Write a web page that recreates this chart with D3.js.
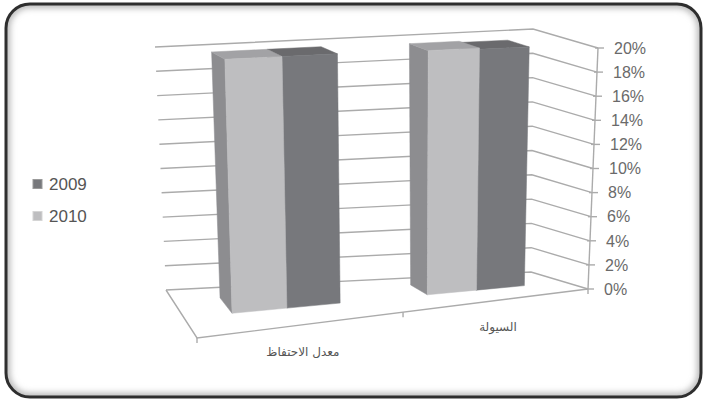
<!DOCTYPE html>
<html>
<head>
<meta charset="utf-8">
<script src="https://cdn.jsdelivr.net/npm/d3@7"></script>
<style>
  body { margin: 0; background: #fff; }
  svg { display: block; }
</style>
</head>
<body>
<div id="chart"></div>
<script>
// data
const categories = ["معدل الاحتفاظ", "السيولة"];
const seriesOrder = ["2010", "2009"];      // left to right inside each group
const legendOrder = ["2009", "2010"];
const values2009 = [0.198, 0.196];
const values2010 = [0.198, 0.197];
const valuesBySeries = { "2009": values2009, "2010": values2010 };

const W = 706, H = 401;

const svg = d3.select("#chart").append("svg")
    .attr("width", W)
    .attr("height", H);

// frame with soft inner shadow
const defs = svg.append("defs");
defs.append("filter").attr("id", "blur")
    .attr("x", "-5%").attr("y", "-5%").attr("width", "110%").attr("height", "110%")
    .append("feGaussianBlur").attr("stdDeviation", 3);
defs.append("clipPath").attr("id", "frameClip")
    .append("rect")
    .attr("x", 6).attr("y", 4).attr("width", 695).attr("height", 393).attr("rx", 24);

svg.append("rect")
    .attr("x", 6).attr("y", 4).attr("width", 695).attr("height", 393).attr("rx", 24)
    .attr("fill", "#fff");
svg.append("g").attr("clip-path", "url(#frameClip)")
    .append("rect")
    .attr("x", 6).attr("y", 4).attr("width", 695).attr("height", 393).attr("rx", 24)
    .attr("fill", "none").attr("stroke", "#b5b5b5").attr("stroke-width", 8)
    .attr("filter", "url(#blur)");
svg.append("rect")
    .attr("x", 6).attr("y", 4).attr("width", 695).attr("height", 393).attr("rx", 24)
    .attr("fill", "none").attr("stroke", "#2e2e2e").attr("stroke-width", 3);

// 3D box corners on screen (front/back, left/right, bottom/top)
const box = {
    FLb: [197, 338], FRb: [588, 289], BLb: [166, 290], BRb: [531, 272],
    FLt: [189, 68],  FRt: [598, 48],  BLt: [155, 47],  BRt: [533, 29]
};

// perspective foreshortening along the category direction
const persp = 1.114;
const warp = u => persp * u / (1 + (persp - 1) * u);

function lerp(a, b, k) { return [a[0] + (b[0] - a[0]) * k, a[1] + (b[1] - a[1]) * k]; }

// u: 0..1 left->right, t: 0..1 bottom->top, w: 0 front .. 1 back
function proj(u, t, w) {
    const s = warp(u);
    const fb = lerp(box.FLb, box.FRb, s), ft = lerp(box.FLt, box.FRt, s);
    const bb = lerp(box.BLb, box.BRb, s), bt = lerp(box.BLt, box.BRt, s);
    const f = lerp(fb, ft, t), b = lerp(bb, bt, t);
    return lerp(f, b, w);
}

const yScale = d3.scaleLinear().domain([0, 0.2]).range([0, 1]);
const xBand = d3.scaleBand().domain(categories).range([0, 1])
    .paddingInner(0.46).paddingOuter(0.23);
const sBand = d3.scaleBand().domain(seriesOrder).range([0, xBand.bandwidth()]);

const gridColor = "#ababab";
const ticks = yScale.ticks(10);
const fmt = d3.format(".0%");
const line = d3.line();

// back wall and side wall grid lines
const grid = svg.append("g").attr("fill", "none").attr("stroke", gridColor).attr("stroke-width", 1.4);
ticks.forEach(v => {
    const t = yScale(v);
    grid.append("path").attr("d", line([proj(0, t, 1), proj(1, t, 1), proj(1, t, 0)]));
});

// floor outline
grid.append("path").attr("d", line([proj(0, 0, 1), proj(0, 0, 0), proj(1, 0, 0)]));

// category ticks on the floor front edge
[0, 0.5, 1].forEach(u => {
    const p = proj(u, 0, 0);
    grid.append("path").attr("d", line([p, [p[0], p[1] + 5]]));
});

// value axis on the front right edge
const axisG = svg.append("g");
axisG.append("path")
    .attr("d", line([proj(1, 0, 0), proj(1, 1, 0)]))
    .attr("stroke", gridColor).attr("stroke-width", 1.4).attr("fill", "none");
ticks.forEach(v => {
    const p = proj(1, yScale(v), 0);
    axisG.append("path")
        .attr("d", line([[p[0] - 3, p[1]], [p[0] + 6, p[1]]]))
        .attr("stroke", gridColor).attr("stroke-width", 1.4);
    axisG.append("text")
        .attr("x", p[0] + 16)
        .attr("y", p[1])
        .attr("dy", "0.36em")
        .attr("font-family", "Liberation Sans, Arial, sans-serif")
        .attr("font-size", 16)
        .attr("fill", "#6a6a6a")
        .text(fmt(v));
});

// bars
const colors = {
    "2010": { front: "#bebec0", side: "#8d8d90", top: "#a2a2a5" },
    "2009": { front: "#77787c", side: "#5f5f62", top: "#6a6a6d" }
};
const w0 = 0.42, w1 = 0.77;

const bars = [];
categories.forEach((c, i) => {
    seriesOrder.forEach(s => {
        const u0 = xBand(c) + sBand(s);
        bars.push({ cat: c, series: s, u0: u0, u1: u0 + sBand.bandwidth(), v: valuesBySeries[s][i] });
    });
});
bars.sort((a, b) => b.u0 - a.u0);   // far (right) bars first

const barG = svg.append("g");
bars.forEach(d => {
    const t = yScale(d.v);
    const col = colors[d.series];
    const faces = [
        { pts: [proj(d.u0, 0, w0), proj(d.u0, 0, w1), proj(d.u0, t, w1), proj(d.u0, t, w0)], fill: col.side },
        { pts: [proj(d.u0, t, w0), proj(d.u0, t, w1), proj(d.u1, t, w1), proj(d.u1, t, w0)], fill: col.top },
        { pts: [proj(d.u0, 0, w0), proj(d.u1, 0, w0), proj(d.u1, t, w0), proj(d.u0, t, w0)], fill: col.front }
    ];
    faces.forEach(f => {
        barG.append("path")
            .attr("d", line(f.pts) + "Z")
            .attr("fill", f.fill)
            .attr("stroke", f.fill)
            .attr("stroke-width", 0.5);
    });
});

// category labels
categories.forEach(c => {
    const p = proj(xBand(c) + xBand.bandwidth() / 2, 0, 0);
    svg.append("text")
        .attr("x", p[0])
        .attr("y", p[1] + 31)
        .attr("text-anchor", "middle")
        .attr("direction", "rtl")
        .attr("font-family", "DejaVu Sans, sans-serif")
        .attr("font-size", 12)
        .attr("fill", "#555")
        .text(c);
});

// legend
const legend = svg.append("g");
legendOrder.forEach((s, i) => {
    const y = 184 + i * 32;
    legend.append("rect")
        .attr("x", 33).attr("y", y - 4.5).attr("width", 9).attr("height", 9)
        .attr("fill", colors[s].front)
        .attr("stroke", s === "2009" ? "#9a9a9a" : "#d5d5d5").attr("stroke-width", 1);
    legend.append("text")
        .attr("x", 49).attr("y", y)
        .attr("dy", "0.36em")
        .attr("font-family", "Liberation Sans, Arial, sans-serif")
        .attr("font-size", 17)
        .attr("fill", "#555")
        .text(s);
});
</script>
</body>
</html>
